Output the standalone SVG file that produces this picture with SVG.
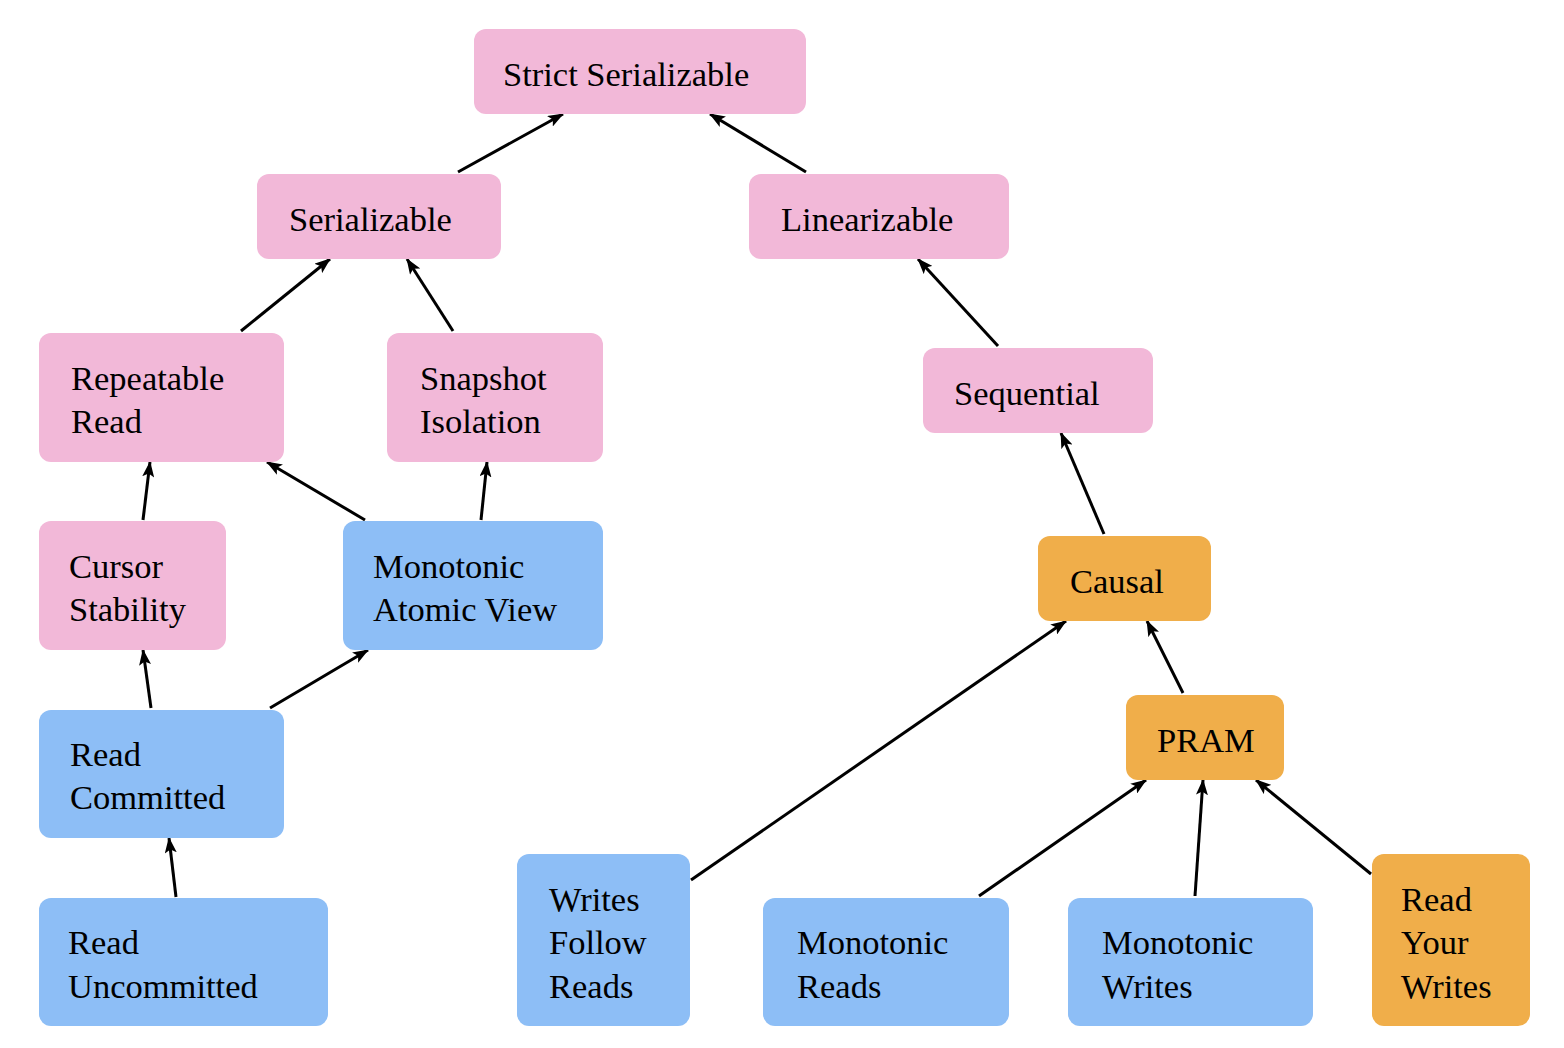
<svg xmlns="http://www.w3.org/2000/svg" width="1564" height="1048" viewBox="0 0 1564 1048">
<style>
.n rect{rx:12;ry:12}
.p{fill:#F2B8D8}
.b{fill:#8DBEF6}
.o{fill:#F0AE4A}
text{font-family:"Liberation Serif","Times New Roman",serif;font-size:34.5px;fill:#000}
.e line{stroke:#000;stroke-width:3;marker-end:url(#ah)}
</style>
<defs>
<marker id="ah" viewBox="0 0 16 12" refX="15" refY="6" markerWidth="16" markerHeight="12" markerUnits="userSpaceOnUse" orient="auto">
<path d="M0,0 L16,6 L0,12 L3.5,6 Z" fill="#000"/>
</marker>
</defs>
<rect width="1564" height="1048" fill="#fff"/>
<g class="e" id="edges">
<line x1="458" y1="172" x2="563" y2="114"/>
<line x1="806" y1="172" x2="710" y2="114"/>
<line x1="241" y1="331" x2="330" y2="259"/>
<line x1="453" y1="331" x2="407" y2="259"/>
<line x1="998" y1="346" x2="918" y2="259"/>
<line x1="143" y1="520" x2="150" y2="462"/>
<line x1="365" y1="520" x2="267" y2="462"/>
<line x1="481" y1="520" x2="487" y2="462"/>
<line x1="1104" y1="534" x2="1061" y2="433"/>
<line x1="151" y1="708" x2="143" y2="650"/>
<line x1="270" y1="708" x2="368" y2="650"/>
<line x1="176" y1="897" x2="169" y2="838"/>
<line x1="691" y1="880" x2="1066" y2="621"/>
<line x1="1183" y1="693" x2="1147" y2="621"/>
<line x1="979" y1="896" x2="1146" y2="780"/>
<line x1="1195" y1="896" x2="1203" y2="780"/>
<line x1="1371" y1="874" x2="1256" y2="780"/>
</g>
<g class="n" id="strict-serializable"><rect class="p" x="474" y="29" width="332" height="85"/><text x="503" y="86">Strict Serializable</text></g>
<g class="n" id="serializable"><rect class="p" x="257" y="174" width="244" height="85"/><text x="289" y="231">Serializable</text></g>
<g class="n" id="linearizable"><rect class="p" x="749" y="174" width="260" height="85"/><text x="781" y="231">Linearizable</text></g>
<g class="n" id="repeatable-read"><rect class="p" x="39" y="333" width="245" height="129"/><text x="71" y="390">Repeatable</text><text x="71" y="433">Read</text></g>
<g class="n" id="snapshot-isolation"><rect class="p" x="387" y="333" width="216" height="129"/><text x="420" y="390">Snapshot</text><text x="420" y="433">Isolation</text></g>
<g class="n" id="sequential"><rect class="p" x="923" y="348" width="230" height="85"/><text x="954" y="405">Sequential</text></g>
<g class="n" id="cursor-stability"><rect class="p" x="39" y="521" width="187" height="129"/><text x="69" y="578">Cursor</text><text x="69" y="621">Stability</text></g>
<g class="n" id="monotonic-atomic-view"><rect class="b" x="343" y="521" width="260" height="129"/><text x="373" y="578">Monotonic</text><text x="373" y="621">Atomic View</text></g>
<g class="n" id="causal"><rect class="o" x="1038" y="536" width="173" height="85"/><text x="1070" y="593">Causal</text></g>
<g class="n" id="read-committed"><rect class="b" x="39" y="710" width="245" height="128"/><text x="70" y="766">Read</text><text x="70" y="809">Committed</text></g>
<g class="n" id="pram"><rect class="o" x="1126" y="695" width="158" height="85"/><text x="1157" y="752">PRAM</text></g>
<g class="n" id="writes-follow-reads"><rect class="b" x="517" y="854" width="173" height="172"/><text x="549" y="911">Writes</text><text x="549" y="954">Follow</text><text x="549" y="998">Reads</text></g>
<g class="n" id="read-uncommitted"><rect class="b" x="39" y="898" width="289" height="128"/><text x="68" y="954">Read</text><text x="68" y="998">Uncommitted</text></g>
<g class="n" id="monotonic-reads"><rect class="b" x="763" y="898" width="246" height="128"/><text x="797" y="954">Monotonic</text><text x="797" y="998">Reads</text></g>
<g class="n" id="monotonic-writes"><rect class="b" x="1068" y="898" width="245" height="128"/><text x="1102" y="954">Monotonic</text><text x="1102" y="998">Writes</text></g>
<g class="n" id="read-your-writes"><rect class="o" x="1372" y="854" width="158" height="172"/><text x="1401" y="911">Read</text><text x="1401" y="954">Your</text><text x="1401" y="998">Writes</text></g>
</svg>
